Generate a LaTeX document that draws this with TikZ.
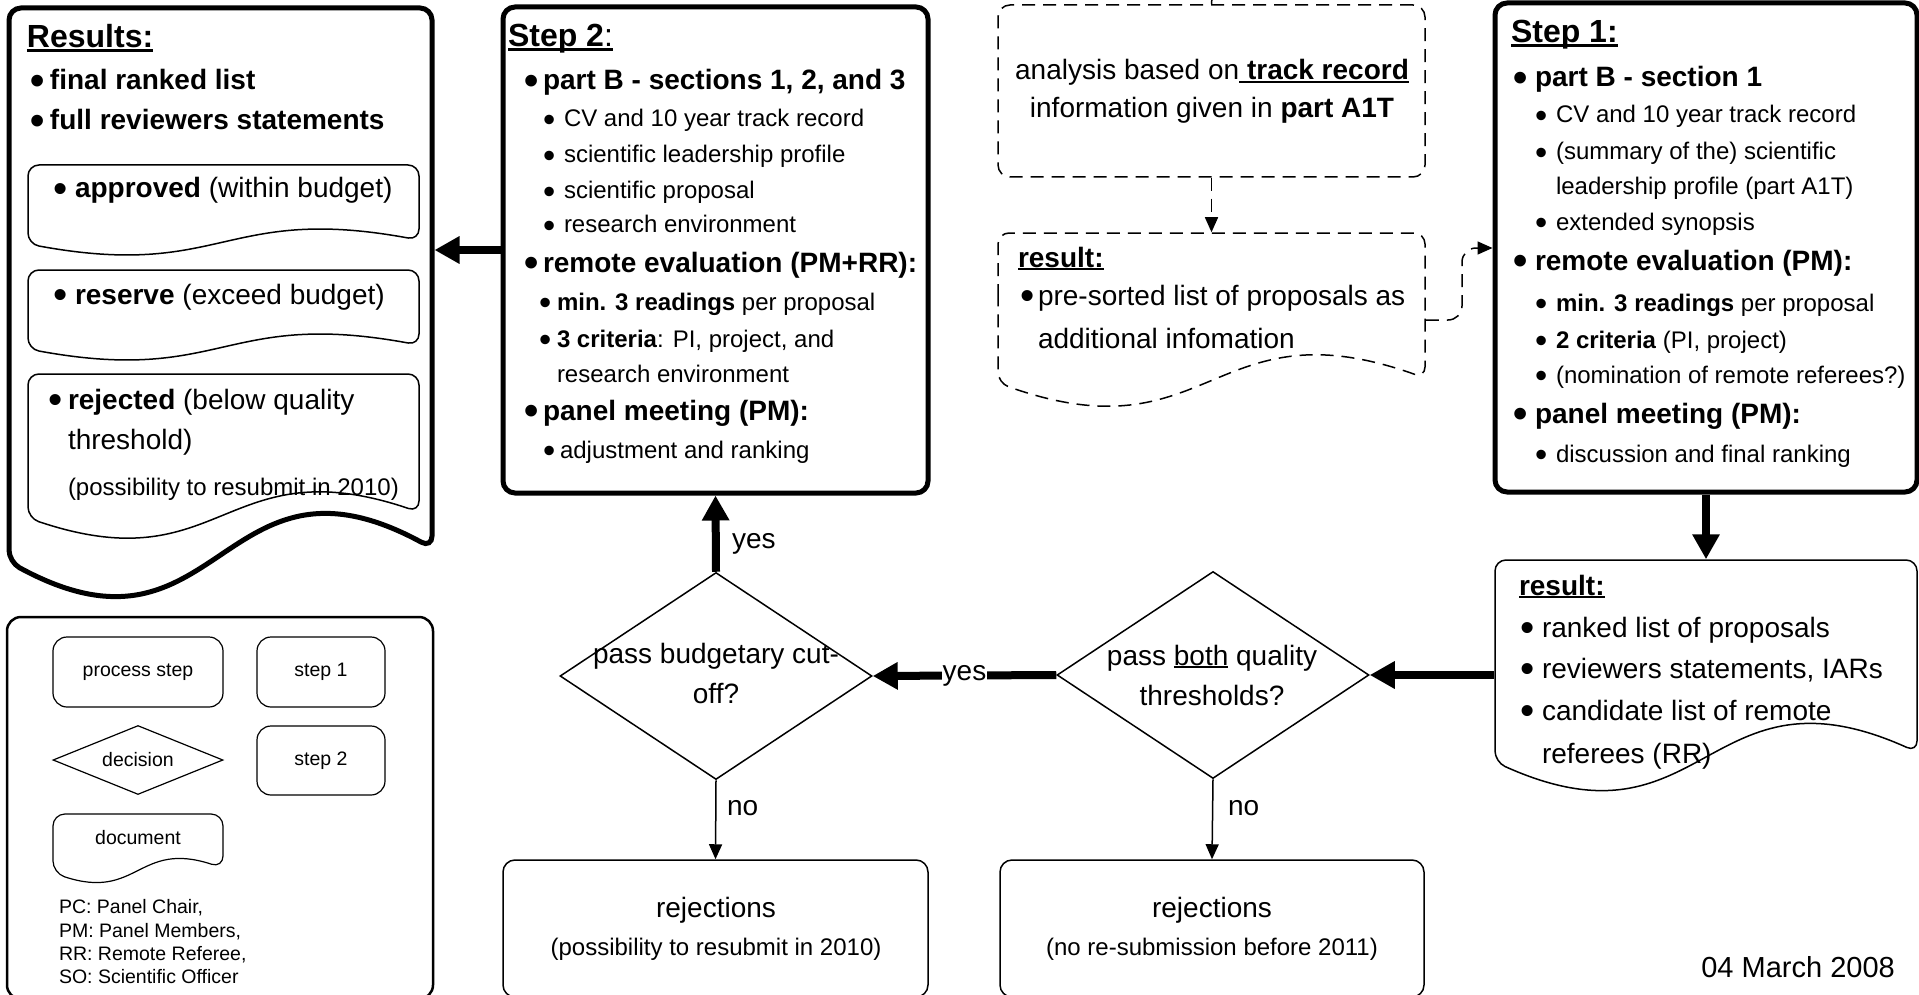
\documentclass[tikz,border=0pt]{standalone}
\usepackage{fontspec}
\setmainfont{Liberation Sans}
\usetikzlibrary{arrows.meta,shapes.geometric,fit}
\newsavebox\ulbox
\newcommand\ulin[1]{\sbox\ulbox{#1}\rlap{\rule[-0.11em]{\wd\ulbox}{0.065em}}\usebox\ulbox}
\newcommand\bl[1]{\makebox[#1][l]{\raisebox{-0.17em}{\scalebox{1.45}{•}}}}
\newcommand\fH{\fontsize{32}{38}\selectfont}
\newcommand\fB{\fontsize{28}{34}\selectfont}
\newcommand\fS{\fontsize{24}{29}\selectfont}
\newcommand\fL{\fontsize{19.5}{23.5}\selectfont}
\newcommand\fD{\fontsize{29}{35}\selectfont}
% document shape: style, name, x1, y1, x2, yleft, yright, wave, outer sep
\newcommand\docshape[9]{%
  \node[fit={(#3,#4) (#5,#7)}, inner sep=0pt, outer sep=#9] (#2) {};
  \draw[#1] (#3,{(#4+#6)/2}) -- (#3,#4) -- (#5,#4) -- (#5,#7)
    .. controls ({(#3+#5)/2},{#7-#8}) and ({(#3+#5)/2},{#6+#8}) .. (#3,#6) -- cycle;}
\tikzset{
  tx/.style={anchor=base west, inner sep=0pt, outer sep=0pt},
  txc/.style={anchor=base, inner sep=0pt, outer sep=0pt},
  thickbox/.style={draw, line width=5pt, rounded corners=12pt, inner sep=0pt},
  thinbox/.style={draw, line width=1.5pt, rounded corners=12pt, inner sep=0pt},
  dashbox/.style={draw, line width=1.5pt, dash pattern=on 13pt off 8pt, rounded corners=12pt, inner sep=0pt},
  docthick/.style={line width=5pt, rounded corners=12pt},
  docthin/.style={line width=1.5pt, rounded corners=11pt},
  docdash/.style={line width=1.5pt, dash pattern=on 13pt off 8pt, rounded corners=11pt},
  doclg/.style={line width=1.2pt, rounded corners=12pt},
  decision/.style={draw, diamond, line width=1.5pt, inner sep=0pt, minimum width=312pt, minimum height=207pt},
  bigarrow/.style={line width=8pt, -{Triangle[length=25pt,width=26pt]}},
  smallarrow/.style={line width=1.5pt, -{Triangle[length=15pt,width=13pt]}},
  dasharrow/.style={line width=1.5pt, dash pattern=on 13pt off 8pt, -{Triangle[length=15pt,width=13pt]}},
  lgbox/.style={draw, line width=1.2pt, rounded corners=14pt, inner sep=0pt}
}
\begin{document}
\begin{tikzpicture}[x=1pt,y=-1pt]
\useasboundingbox (0,0) rectangle (1919,995);
\fill[white] (0,0) rectangle (1919,995);

% ---------------- Results ----------------
\docshape{docthick}{results}{9}{8}{432}{562}{548}{115}{2.5pt}
\node[tx] (rtitle) at (27,48) {\fH\bfseries\ulin{Results:}};
\node[tx] (rfin) at (30,90) {\fB\bfseries\bl{20pt}final ranked list};
\node[tx] (rfull) at (30,130) {\fB\bfseries\bl{20pt}full reviewers statements};
\docshape{docthin}{appr}{28}{165}{419}{244}{240}{36}{0.75pt}
\node[tx] (apprt) at (53,198) {\fB\bl{22pt}\textbf{approved} (within budget)};
\docshape{docthin}{resv}{28}{270}{419}{349}{345}{36}{0.75pt}
\node[tx] (resvt) at (53,304) {\fB\bl{22pt}\textbf{reserve} (exceed budget)};
\docshape{docthin}{rejd}{28}{374}{419}{518}{512}{66}{0.75pt}
\node[tx] (rejt1) at (48,409) {\fB\bl{20pt}\textbf{rejected} (below quality};
\node[tx] (rejt2) at (68,449) {\fB threshold)};
\node[tx] (rejt3) at (68,495) {\fS (possibility to resubmit in 2010)};

% ---------------- Step 2 ----------------
\node[thickbox, fit={(503,7) (928,493)}] (step2) {};
\node[tx] (s2h) at (508,47) {\fH\ulin{\textbf{Step 2}:}};
\node[tx] (s2a) at (524,90) {\fB\bfseries\bl{19pt}part B - sections 1, 2, and 3};
\node[tx] (s2b) at (543,127) {\fS\bl{21pt}CV and 10 year track record};
\node[tx] (s2c) at (543,163) {\fS\bl{21pt}scientific leadership profile};
\node[tx] (s2d) at (543,199) {\fS\bl{21pt}scientific proposal};
\node[tx] (s2e) at (543,233) {\fS\bl{21pt}research environment};
\node[tx] (s2f) at (524,272) {\fB\bfseries\bl{19pt}remote evaluation (PM+RR):};
\node[tx] (s2g) at (539,310) {\fS\bl{18pt}\textbf{min. 3 readings} per proposal};
\node[tx] (s2h2) at (539,347) {\fS\bl{18pt}\textbf{3 criteria}: PI, project, and};
\node[tx] (s2i) at (557,382) {\fS research environment};
\node[tx] (s2j) at (524,420) {\fB\bfseries\bl{19pt}panel meeting (PM):};
\node[tx] (s2k) at (543,458) {\fS\bl{17pt}adjustment and ranking};

% ---------------- track record analysis (dashed) ----------------
\node[dashbox, fit={(998,5) (1425,177)}] (anal) {};
\coordinate (analin) at (1212,-3);
\draw[line width=1.5pt] (analin) -- (anal.north);
\node[txc] (an1) at (1212,80) {\fB analysis based on\ulin{\textbf{ track record}}};
\node[txc] (an2) at (1212,118) {\fB information given in \textbf{part A1T}};
\docshape{docdash}{presort}{998}{233}{1425}{383}{378}{76}{0.75pt}
\node[tx] (ps0) at (1018,267) {\fB\bfseries\ulin{result:}};
\node[tx] (ps1) at (1020,305) {\fB\bl{18pt}pre-sorted list of proposals as};
\node[tx] (ps2) at (1038,348) {\fB additional infomation};

% ---------------- Step 1 ----------------
\node[thickbox, fit={(1495,3) (1917,492)}] (step1) {};
\coordinate (step1in) at (1706,-3);
\draw[line width=2pt] (step1in) -- (step1.north);
\node[tx] (s1h) at (1511,43) {\fH\bfseries\ulin{Step 1:}};
\node[tx] (s1a) at (1513,87) {\fB\bfseries\bl{22pt}part B - section 1};
\node[tx] (s1b) at (1535,123) {\fS\bl{21pt}CV and 10 year track record};
\node[tx] (s1c) at (1535,160) {\fS\bl{21pt}(summary of the) scientific};
\node[tx] (s1d) at (1556,195) {\fS leadership profile (part A1T)};
\node[tx] (s1e) at (1535,230) {\fS\bl{21pt}extended synopsis};
\node[tx] (s1f) at (1513,270) {\fB\bfseries\bl{22pt}remote evaluation (PM):};
\node[tx] (s1g) at (1535,311) {\fS\bl{21pt}\textbf{min. 3 readings} per proposal};
\node[tx] (s1h2) at (1535,348) {\fS\bl{21pt}\textbf{2 criteria} (PI, project)};
\node[tx] (s1i) at (1535,383) {\fS\bl{21pt}(nomination of remote referees?)};
\node[tx] (s1j) at (1513,423) {\fB\bfseries\bl{22pt}panel meeting (PM):};
\node[tx] (s1k) at (1535,462) {\fS\bl{21pt}discussion and final ranking};

% ---------------- result of step 1 ----------------
\docshape{docthin}{rres}{1495}{560}{1917}{762}{752}{95}{0.75pt}
\node[tx] (rr0) at (1519,595) {\fB\bfseries\ulin{result:}};
\node[tx] (rr1) at (1520,637) {\fB\bl{22pt}ranked list of proposals};
\node[tx] (rr2) at (1520,678) {\fB\bl{22pt}reviewers statements, IARs};
\node[tx] (rr3) at (1520,720) {\fB\bl{22pt}candidate list of remote};
\node[tx] (rr4) at (1542,763) {\fB referees (RR)};

% ---------------- decisions ----------------
\node[decision] (budget) at (716,676) {};
\node[txc] (bt1) at (716,663) {\fB pass budgetary cut-};
\node[txc] (bt2) at (716,703) {\fB off?};
\node[decision] (quality) at (1213,675) {};
\node[txc] (qt1) at (1212,665) {\fB pass \ulin{both} quality};
\node[txc] (qt2) at (1212,705) {\fB thresholds?};

% ---------------- rejections ----------------
\node[thinbox, fit={(503,860) (928,997)}] (rej1) {};
\node[txc] (rj1a) at (716,917) {\fB rejections};
\node[txc] (rj1b) at (716,955) {\fS (possibility to resubmit in 2010)};
\node[thinbox, fit={(1000,860) (1424,997)}] (rej2) {};
\node[txc] (rj2a) at (1212,917) {\fB rejections};
\node[txc] (rj2b) at (1212,955) {\fS (no re-submission before 2011)};

% ---------------- connectors ----------------
\draw[bigarrow] (step2.west) -- (results.east |- step2.west);
\draw[bigarrow] (budget.north) -- (step2.south);
\node[tx] (yes1) at (732,548) {\fB yes};
\draw[bigarrow] (quality.west) -- node[midway, fill=white, inner sep=0.5pt] (yes2) {\fB yes} (budget.east);
\draw[bigarrow] (rres.west |- quality.east) -- (quality.east);
\draw[bigarrow] (step1.south) -- (rres.north);
\draw[smallarrow] (budget.south) -- (rej1.north);
\node[tx] (no1) at (727,815) {\fB no};
\draw[smallarrow] (quality.south) -- (rej2.north);
\node[tx] (no2) at (1228,815) {\fB no};
\draw[dasharrow] (anal.south) -- (presort.north);
\draw[dasharrow, rounded corners=14pt] (presort.east |- 0,320) -- (1462,320) -- (1462,248) -- (step1.west |- 0,248);

% ---------------- legend ----------------
\node[draw, line width=2.5pt, rounded corners=14pt, inner sep=0pt, fit={(7,617) (433,999)}] (legend) {};
\node[lgbox, fit={(53,637) (223,707)}, label=center:{\fL process step}] (lgproc) {};
\node[lgbox, fit={(257,637) (385,707)}, label=center:{\fL step 1}] (lgs1) {};
\node[draw, diamond, line width=1.2pt, inner sep=0pt, minimum width=170pt, minimum height=69pt, label=center:{\fL decision}] (lgdec) at (138,760) {};
\node[lgbox, fit={(257,726) (385,795)}, label=center:{\fL step 2}] (lgs2) {};
\docshape{doclg}{lgdoc}{53}{814}{223}{873}{868}{28}{0pt}
\node[inner sep=0pt] (lgdoct) at (138,838) {\fL document};
\node[tx] (ab1) at (59,913) {\fL PC: Panel Chair,};
\node[tx] (ab2) at (59,937) {\fL PM: Panel Members,};
\node[tx] (ab3) at (59,960) {\fL RR: Remote Referee,};
\node[tx] (ab4) at (59,983) {\fL SO: Scientific Officer};

\node[anchor=base east, inner sep=0pt] (date) at (1895,977) {\fD 04 March 2008};
\end{tikzpicture}
\end{document}
